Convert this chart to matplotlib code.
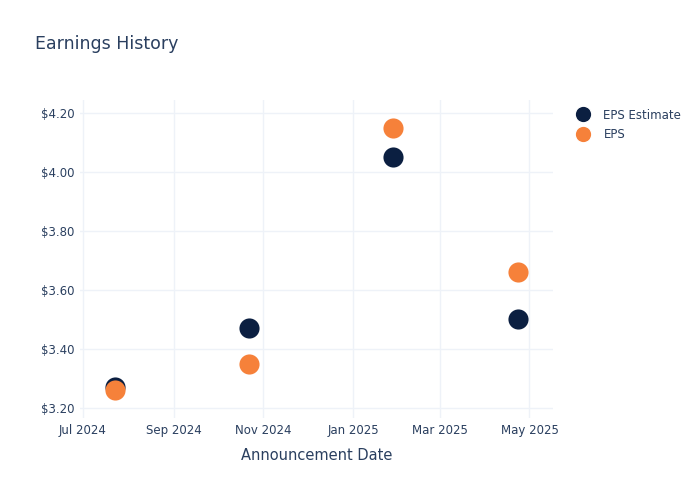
import datetime as dt
import matplotlib
matplotlib.use("Agg")
import matplotlib.pyplot as plt
import matplotlib.dates as mdates
from matplotlib.ticker import FuncFormatter
from matplotlib.lines import Line2D

dates = ["2024-07-23", "2024-10-22", "2025-01-28", "2025-04-23"]
eps_estimate = [3.27, 3.47, 4.05, 3.50]
eps_actual = [3.26, 3.35, 4.15, 3.66]
tick_dates = ["2024-07-01", "2024-09-01", "2024-11-01", "2025-01-01", "2025-03-01", "2025-05-01"]
y_ticks = [3.20, 3.40, 3.60, 3.80, 4.00, 4.20]

NAVY = "#0b1f41"
ORANGE = "#f6813a"
TXT = "#2a3f5f"
GRID = "#eef2f8"

x = [dt.datetime.strptime(d, "%Y-%m-%d") for d in dates]
xt = [dt.datetime.strptime(d, "%Y-%m-%d") for d in tick_dates]

fig = plt.figure(figsize=(7, 5), dpi=100)
ax = fig.add_axes([0.114, 0.164, 0.676, 0.636])

ax.scatter(x, eps_estimate, s=210, color=NAVY, zorder=3, linewidths=0)
ax.scatter(x, eps_actual, s=210, color=ORANGE, zorder=4, linewidths=0)

ax.set_xlim(dt.datetime(2024, 6, 29), dt.datetime(2025, 5, 17))
ax.set_ylim(3.166, 4.244)
ax.set_xticks(xt)
ax.xaxis.set_major_formatter(mdates.DateFormatter("%b %Y"))
ax.set_yticks(y_ticks)
ax.yaxis.set_major_formatter(FuncFormatter(lambda v, p: f"${v:.2f}"))

for s in ax.spines.values():
    s.set_visible(False)
ax.grid(True, color=GRID, lw=1)
ax.set_axisbelow(True)
ax.tick_params(length=0, labelsize=8.5, colors=TXT, pad=4)
ax.set_xlabel("Announcement Date", fontsize=10.5, color=TXT, labelpad=8)

fig.text(0.05, 0.912, "Earnings History", fontsize=12.5, color=TXT, va="center")

legend_items = [
    Line2D([0], [0], marker="o", color="w", markerfacecolor=NAVY, markersize=12, label="EPS Estimate"),
    Line2D([0], [0], marker="o", color="w", markerfacecolor=ORANGE, markersize=12, label="EPS"),
]
ax.legend(handles=legend_items, loc="upper left", bbox_to_anchor=(1.028, 0.988), frameon=False,
          fontsize=8.5, labelcolor=TXT, handletextpad=0.75, labelspacing=0.55, borderaxespad=0)

plt.savefig("out.png", dpi=100)
plt.close()
